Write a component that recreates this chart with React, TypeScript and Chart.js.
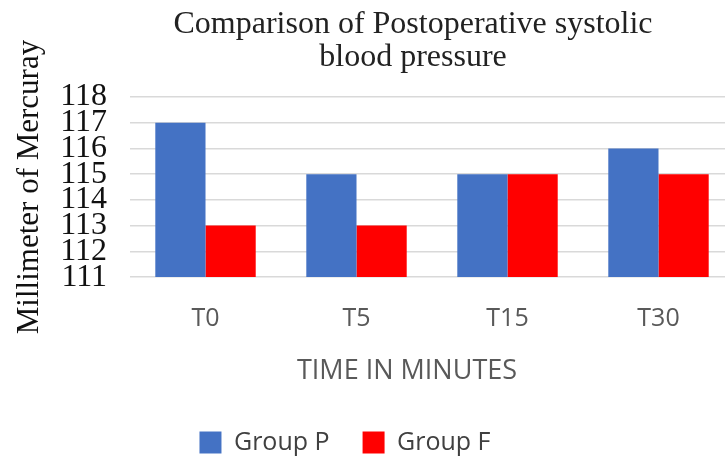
import React, { useEffect, useRef } from "react";
import { Chart, registerables } from "chart.js";

Chart.register(...registerables);

const categories = ["T0", "T5", "T15", "T30"];
const groupP = [117, 115, 115, 116];
const groupF = [113, 113, 115, 115];
const yMin = 111;
const yMax = 118;
const titleLines = ["Comparison of Postoperative systolic", "blood pressure"];
const xTitle = "TIME IN MINUTES";
const yTitle = "Millimeter of Mercuray";

// horizontal centres of the boxes placed outside the plot area (as in the reference layout)
const TITLE_CENTER = 413;
const XTITLE_CENTER = 407;
const LEGEND_CENTER = 345;

const recenter = {
  id: "recenter",
  afterLayout(chart: any) {
    const move = (box: any, cx: number) => {
      const w = box.right - box.left;
      box.left = cx - w / 2;
      box.right = cx + w / 2;
    };
    for (const b of chart.boxes as any[]) {
      const txt = b?.options?.text;
      if (b === chart.legend) move(b, LEGEND_CENTER);
      else if (Array.isArray(txt)) move(b, TITLE_CENTER);
      else if (txt === xTitle) move(b, XTITLE_CENTER);
    }
  },
};

export default function App() {
  const ref = useRef<HTMLCanvasElement | null>(null);
  useEffect(() => {
    if (!ref.current) return;
    const chart = new Chart(ref.current, {
      type: "bar",
      data: {
        labels: categories,
        datasets: [
          { label: "Group P", data: groupP, backgroundColor: "#4472C4", borderWidth: 0 },
          { label: "Group F", data: groupF, backgroundColor: "#FF0000", borderWidth: 0 },
        ],
      },
      plugins: [recenter],
      options: {
        animation: false,
        responsive: false,
        maintainAspectRatio: false,
        datasets: { bar: { categoryPercentage: 0.665, barPercentage: 1.0 } },
        layout: { padding: { left: -8, right: 0, top: 0, bottom: -9 } },
        plugins: {
          title: {
            display: true,
            text: titleLines,
            fullSize: false,
            color: "#222",
            font: { family: "'Liberation Serif', serif", size: 32, weight: "normal", lineHeight: 1.03 },
            padding: { top: 8, bottom: 23 },
          },
          subtitle: {
            display: true,
            text: xTitle,
            position: "bottom",
            fullSize: false,
            weight: 500,
            color: "#595959",
            font: { family: "'Open Sans', sans-serif", size: 27, weight: "normal" },
            padding: { top: -6, bottom: 9.5 },
          },
          legend: {
            position: "bottom",
            labels: {
              boxWidth: 22,
              boxHeight: 22,
              padding: 33,
              color: "#404040",
              font: { family: "'Open Sans', sans-serif", size: 25 },
            },
          },
          tooltip: { enabled: false },
        },
        scales: {
          x: {
            grid: { display: false, drawTicks: false },
            border: { display: false },
            ticks: {
              color: "#595959",
              padding: 27,
              font: { family: "'Open Sans', sans-serif", size: 25 },
            },
          },
          y: {
            min: yMin,
            max: yMax,
            grid: { color: "#d9d9d9", lineWidth: 1.5, drawTicks: false },
            border: { display: false },
            ticks: {
              stepSize: 1,
              autoSkip: false,
              color: "#111",
              padding: 23,
              font: { family: "'Liberation Serif', serif", size: 32 },
            },
            title: {
              display: true,
              text: yTitle,
              color: "#111",
              font: { family: "'Liberation Serif', serif", size: 31 },
              padding: { top: 19, bottom: -11 },
            },
          },
        },
      },
    });
    return () => chart.destroy();
  }, []);
  return (
    <div style={{ position: "absolute", left: 0, top: 0, width: 725, height: 456, overflow: "hidden", background: "#fff" }}>
      <canvas ref={ref} width={734} height={456} style={{ display: "block" }} />
    </div>
  );
}
